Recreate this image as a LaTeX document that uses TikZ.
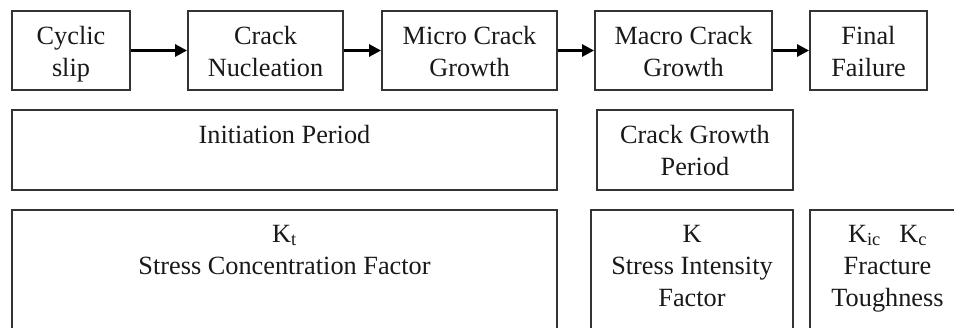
\documentclass[tikz,border=0pt]{standalone}
\usepackage{fontspec}
\setmainfont{Liberation Serif}
\usetikzlibrary{arrows.meta}

\begin{document}
\begin{tikzpicture}[x=1pt,y=-1pt,
  box/.style={draw=black!80,line width=1.9pt,rectangle,inner sep=0pt},
  lbl/.style={anchor=base,align=center,inner sep=0pt,text=black!90,
    font=\fontsize{26.3}{32}\selectfont},
  flow/.style={-{Triangle[length=12pt,width=12pt]},line width=2.8pt}]
\useasboundingbox (0,0) rectangle (954,327);
\clip (0,0) rectangle (954,327);
% stages (anchor base = last line)
\node[box,minimum width=118pt,minimum height=79pt] (slip) at (71,50.5) {};
\node[box,minimum width=155pt,minimum height=79pt] (nucl) at (265.5,50.5) {};
\node[box,minimum width=175pt,minimum height=79pt] (micro) at (469.5,50.5) {};
\node[box,minimum width=177pt,minimum height=79pt] (macro) at (683.5,50.5) {};
\node[box,minimum width=117pt,minimum height=79pt] (fail) at (868.5,50.5) {};
\node[lbl] at ([yshift=-66pt]slip.north) {Cyclic\\slip};
\node[lbl] at ([yshift=-66pt]nucl.north) {Crack\\Nucleation};
\node[lbl] at ([yshift=-66pt]micro.north) {Micro Crack\\Growth};
\node[lbl] at ([yshift=-66pt]macro.north) {Macro Crack\\Growth};
\node[lbl] at ([yshift=-66pt]fail.north) {Final\\Failure};
\draw[flow] (slip) -- (nucl);
\draw[flow] (nucl) -- (micro);
\draw[flow] (micro) -- (macro);
\draw[flow] (macro) -- (fail);
% periods
\node[box,minimum width=545pt,minimum height=80pt] (init) at (284.5,150) {};
\node[box,minimum width=196pt,minimum height=80pt] (grow) at (695,150) {};
\node[lbl] at ([yshift=-34pt]init.north) {Initiation Period};
\node[lbl] at ([yshift=-66pt]grow.north) {Crack Growth\\Period};
% factors
\node[box,minimum width=545pt,minimum height=130pt] (kt) at (284.5,275) {};
\node[box,minimum width=202pt,minimum height=130pt] (k) at (692,275) {};
\node[box,minimum width=155pt,minimum height=130pt] (kic) at (887.5,275) {};
\node[lbl] at ([yshift=-65pt]kt.north) {K\textsubscript{t}\\Stress Concentration Factor};
\node[lbl] at ([yshift=-97pt]k.north) {K\\Stress Intensity\\Factor};
\node[lbl] at ([yshift=-97pt]kic.north) {K\textsubscript{ic}\hspace{0.7em}K\textsubscript{c}\\Fracture\\Toughness};
\end{tikzpicture}
\end{document}
